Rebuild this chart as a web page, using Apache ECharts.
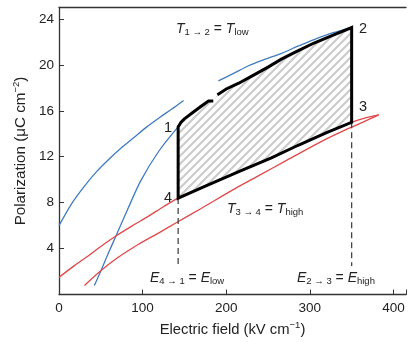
<!DOCTYPE html>
<html>
<head>
<meta charset="utf-8">
<script src="https://cdn.jsdelivr.net/npm/echarts@6/dist/echarts.min.js"></script>
<style>
  html, body { margin: 0; padding: 0; background: #fff; }
  #chart { width: 409px; height: 342px; }
</style>
</head>
<body>
<div id="chart"></div>
<script>
// values, [E (kV cm-1), P (uC cm-2)]
const blueUpperLeft = [[0, 6.0], [15, 7.9], [30, 9.4], [45, 10.7], [60, 11.8], [75, 12.8], [90, 13.7], [105, 14.6], [120, 15.4], [135, 16.15], [149, 16.9]]
const blueUpperRight = [[190.6, 18.6], [210, 19.3], [226, 19.9], [245, 20.45], [266, 21.0], [285, 21.6], [305, 22.2], [328, 22.8], [350, 23.25]]
const blueLower = [[42.3, 0.8], [50.3, 2.1], [59, 3.6], [68.1, 5.1], [82, 7.4], [97.7, 9.9], [119.5, 12.5], [142.5, 14.6]]

const redUpper = [[0, 1.5], [18, 2.5], [36.4, 3.45], [52, 4.3], [68.1, 5.1], [88, 6.0], [107.6, 6.85], [125, 7.65], [142.5, 8.4],
  [175, 9.45], [215, 10.7], [254, 11.9], [286, 13.0], [320, 14.1], [350, 15.0], [364.6, 15.35], [382.4, 15.64]]
const redLower = [[30.5, 0.8], [50.3, 2.1], [70, 3.2], [95.7, 4.4], [120, 5.4], [141.2, 6.3], [170, 7.5], [210, 9.2],
  [240, 10.4], [270, 11.6], [313, 13.3], [340, 14.25], [365, 15.05], [382.4, 15.64]]

// the 1-2-3-4 cycle
const cycleTopLeft = [[142.5, 14.6], [146, 15.0], [150, 15.3], [160, 15.85], [170, 16.4], [178.8, 16.85], [184.5, 16.85]]
const cycleTopRight = [[189.5, 17.4], [200, 17.9], [215, 18.4], [230, 19.0], [250, 19.8], [266, 20.5], [285, 21.2], [305, 21.9], [325, 22.5], [350, 23.25]]
const cycleBottom = [[142.5, 8.4], [175, 9.45], [215, 10.7], [254, 11.9], [286, 13.0], [320, 14.1], [350, 15.0]]

const dropLow = [[142.5, 8.4], [142.5, 2.4]]
const dropHigh = [[350, 15.0], [350, 2.5]]

const xTicks = [0, 100, 200, 300, 400]
const yTicks = [4, 8, 12, 16, 20, 24]

const blue = '#3f7cc0'
const red = '#e0484a'
const ink = '#222'
const font = '"Liberation Sans", Arial, sans-serif'

const chart = echarts.init(document.getElementById('chart'))

// diagonal hatch for the enclosed area
const hatch = document.createElement('canvas')
hatch.width = 8
hatch.height = 8
const hc = hatch.getContext('2d')
hc.strokeStyle = '#cccccc'
hc.lineWidth = 2.2
hc.beginPath()
hc.moveTo(0, 8); hc.lineTo(8, 0)
hc.moveTo(-2, 2); hc.lineTo(2, -2)
hc.moveTo(6, 10); hc.lineTo(10, 6)
hc.stroke()

const cyclePolygon = cycleTopLeft.concat(cycleTopRight, cycleBottom.slice().reverse())
const cycleLine = cycleTopRight.concat(cycleBottom.slice().reverse(), cycleTopLeft)

const thin = (name, data, color) => ({
  type: 'line', name, data, smooth: 0.3, symbol: 'none', silent: true,
  lineStyle: { color, width: 1.3 }, z: 3,
})

const sub = { fontSize: 9.5, fontFamily: font, fill: ink, padding: [7, 0, 0, 0] }
const it = { fontSize: 14, fontFamily: font, fontStyle: 'italic', fill: ink }
const note = (x, y, text) => ({
  type: 'text', left: x, top: y, z: 10,
  style: { text, fontSize: 14, fontFamily: font, fill: ink, rich: { i: it, s: sub } },
})
const num = (x, y, text) => ({
  type: 'text', left: x, top: y, z: 10,
  style: { text, fontSize: 14.5, fontFamily: font, fill: ink },
})
const supStyle = { fontSize: 9.5, fontFamily: font, color: ink, padding: [0, 0, 8, 0] }

chart.setOption({
  animation: false,
  grid: { left: 59, right: 0, top: 7.4, bottom: 44.6 },
  xAxis: [{
    type: 'value', min: 0, max: 415, interval: 100,
    name: 'Electric field (kV cm{s|−1})', nameLocation: 'middle', nameGap: 21,
    nameTextStyle: { fontSize: 14.8, fontFamily: font, color: ink, rich: { s: supStyle } },
    axisLine: { lineStyle: { color: '#333', width: 1.3 } },
    axisTick: { inside: true, length: 5, lineStyle: { color: '#333' } },
    axisLabel: { margin: 7, fontSize: 13.5, fontFamily: font, color: ink,
      formatter: v => xTicks.includes(v) ? String(v) : '' },
    splitLine: { show: false },
  }, {
    type: 'value', position: 'top', min: 0, max: 415,
    axisLine: { show: true, onZero: false, lineStyle: { color: '#333', width: 1.3 } },
    axisTick: { show: false }, axisLabel: { show: false }, splitLine: { show: false },
  }],
  yAxis: {
    type: 'value', min: 0, max: 25, interval: 4,
    name: 'Polarization (μC cm{s|−2})', nameLocation: 'middle', nameGap: 25, nameRotate: 90,
    nameTextStyle: { fontSize: 15.2, fontFamily: font, color: ink, rich: { s: supStyle } },
    axisLine: { lineStyle: { color: '#333', width: 1.3 } },
    axisTick: { inside: true, length: 5, lineStyle: { color: '#333' } },
    axisLabel: { margin: 5, fontSize: 13.5, fontFamily: font, color: ink,
      formatter: v => yTicks.includes(v) ? String(v) : '' },
    splitLine: { show: false },
  },
  series: [
    {
      type: 'custom', silent: true, z: 1,
      data: [[0, 0]],
      renderItem: (params, api) => ({
        type: 'polygon',
        shape: { points: cyclePolygon.map(p => api.coord(p)) },
        style: { fill: { image: hatch, repeat: 'repeat' }, stroke: null },
      }),
    },
    thin('blueUpperLeft', blueUpperLeft, blue),
    thin('blueUpperRight', blueUpperRight, blue),
    thin('blueLower', blueLower, blue),
    thin('redUpper', redUpper, red),
    thin('redLower', redLower, red),
    {
      type: 'line', data: dropLow, symbol: 'none', silent: true, z: 4,
      lineStyle: { color: '#444', width: 1.3, type: [6, 4] },
    },
    {
      type: 'line', data: dropHigh, symbol: 'none', silent: true, z: 4,
      lineStyle: { color: '#444', width: 1.3, type: [6, 4] },
    },
    {
      type: 'line', data: cycleLine, symbol: 'none', silent: true, z: 5,
      lineStyle: { color: '#000', width: 3, join: 'miter' },
    },
  ],
  graphic: [
    note(176, 22, '{i|T}{s|1 → 2} = {i|T}{s|low}'),
    note(227, 202, '{i|T}{s|3 → 4} = {i|T}{s|high}'),
    note(150, 271, '{i|E}{s|4 → 1} = {i|E}{s|low}'),
    note(297, 271, '{i|E}{s|2 → 3} = {i|E}{s|high}'),
    num(164, 120, '1'),
    num(359, 21, '2'),
    num(359, 99, '3'),
    num(164, 190, '4'),
  ],
})
</script>
</body>
</html>
